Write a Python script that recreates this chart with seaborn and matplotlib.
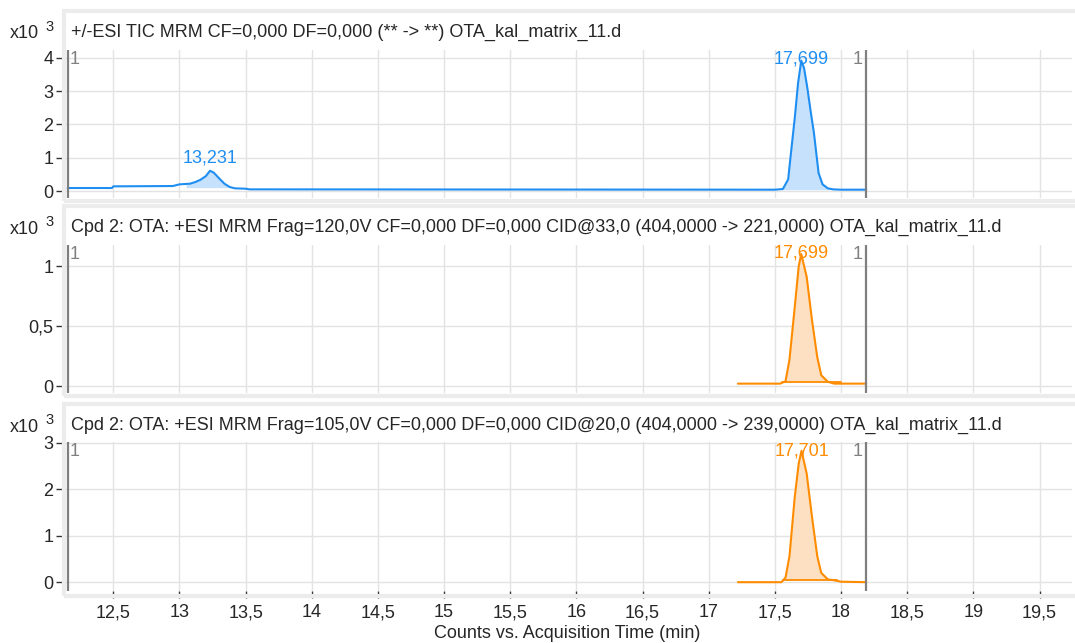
import numpy as np
import pandas as pd
import matplotlib
import matplotlib.pyplot as plt
import seaborn as sns
from matplotlib.patches import Rectangle
from matplotlib.ticker import FuncFormatter

matplotlib.use('Agg')

# --- chromatogram data (x10^3 counts vs. acquisition time in min) ---
tic_time = [12.155, 12.49, 12.5, 12.95, 13.0, 13.08, 13.12, 13.16, 13.2, 13.231,
            13.26, 13.3, 13.34, 13.38, 13.42, 13.5, 13.53, 17.5, 17.56, 17.6,
            17.62, 17.65, 17.675, 17.699, 17.72, 17.745, 17.77, 17.795, 17.83,
            17.86, 17.9, 17.94, 18.0, 18.19]
tic_counts = [0.09, 0.09, 0.14, 0.15, 0.2, 0.22, 0.27, 0.34, 0.45, 0.61,
              0.55, 0.38, 0.22, 0.12, 0.08, 0.07, 0.05, 0.04, 0.06, 0.35,
              1.1, 2.2, 3.25, 3.92, 3.7, 3.1, 2.4, 1.74, 0.54,
              0.2, 0.08, 0.05, 0.04, 0.04]

mrm221_time = [17.22, 17.54, 17.58, 17.61, 17.65, 17.68, 17.699, 17.74, 17.78,
               17.82, 17.85, 17.9, 17.95, 18.19]
mrm221_counts = [0.02, 0.02, 0.04, 0.22, 0.66, 1.0, 1.1, 0.91, 0.55,
                 0.24, 0.09, 0.035, 0.02, 0.02]

mrm239_time = [17.22, 17.55, 17.58, 17.61, 17.65, 17.68, 17.701, 17.74, 17.78,
               17.82, 17.85, 17.9, 17.95, 18.0, 18.19]
mrm239_counts = [0.0, 0.0, 0.1, 0.56, 1.84, 2.56, 2.83, 2.34, 1.41,
                 0.56, 0.2, 0.06, 0.04, 0.01, 0.0]

# integrated peaks: (start, end, baseline level, apex time, apex label)
tic_peaks = [(13.05, 13.42, 0.1, 13.231, '13,231'), (17.55, 17.95, 0.04, 17.699, '17,699')]
mrm221_peaks = [(17.55, 18.0, 0.035, 17.699, '17,699')]
mrm239_peaks = [(17.56, 17.97, 0.04, 17.701, '17,701')]

titles = [
    '+/-ESI TIC MRM CF=0,000 DF=0,000 (** -> **) OTA_kal_matrix_11.d',
    'Cpd 2: OTA: +ESI MRM Frag=120,0V CF=0,000 DF=0,000 CID@33,0 (404,0000 -> 221,0000) OTA_kal_matrix_11.d',
    'Cpd 2: OTA: +ESI MRM Frag=105,0V CF=0,000 DF=0,000 CID@20,0 (404,0000 -> 239,0000) OTA_kal_matrix_11.d',
]
y_ticks = [[0, 1, 2, 3, 4], [0, 0.5, 1], [0, 1, 2, 3]]
y_lims = [(-0.21, 4.24), (-0.058, 1.175), (-0.19, 3.02)]
x_ticks = [12.5, 13, 13.5, 14, 14.5, 15, 15.5, 16, 16.5, 17, 17.5, 18, 18.5, 19, 19.5]

BLUE = '#1f8ef1'
ORANGE = '#ff8c00'
FS = 13

sns.set_style('white')
plt.rcParams['font.family'] = ['Liberation Sans', 'DejaVu Sans']

W, H = 1075, 643
fig = plt.figure(figsize=(W / 100, H / 100), dpi=100)

# panel geometry in pixels: (box top, box bottom, plot top, plot bottom)
panels = [(11, 201, 50, 198), (206, 396, 245, 393), (404, 596, 442, 591)]

series = [
    (tic_time, tic_counts, tic_peaks, BLUE, '#c6e1fb'),
    (mrm221_time, mrm221_counts, mrm221_peaks, ORANGE, '#fde0c2'),
    (mrm239_time, mrm239_counts, mrm239_peaks, ORANGE, '#fde0c2'),
]

comma = FuncFormatter(lambda v, p: ('%g' % v).replace('.', ','))

for i, ((btop, bbot, ptop, pbot), (t, c, peaks, col, fcol)) in enumerate(zip(panels, series)):
    # light grey frame around the whole panel
    fig.patches.append(Rectangle((64 / W, 1 - bbot / H), (W - 62) / W, (bbot - btop) / H,
                                 transform=fig.transFigure, fill=False,
                                 edgecolor='#ececec', lw=3, zorder=0))
    fig.text(71 / W, 1 - (btop + 21) / H, titles[i], fontsize=FS, va='center', ha='left')
    fig.text(10 / W, 1 - (btop + 23) / H, 'x10', fontsize=FS, va='center', ha='left')
    fig.text(45 / W, 1 - (btop + 16) / H, '3', fontsize=10.5, va='center', ha='left')

    ax = fig.add_axes([63 / W, 1 - pbot / H, 1009 / W, (pbot - ptop) / H])
    df = pd.DataFrame({'time': t, 'counts': c})
    sns.lineplot(data=df, x='time', y='counts', color=col, lw=1.5, ax=ax, zorder=3)

    tt = np.array(t)
    cc = np.array(c)
    lo, hi = y_lims[i]
    for start, end, base, apex, lab in peaks:
        m = (tt >= start) & (tt <= end)
        xs = np.concatenate([[start], tt[m], [end]])
        ys = np.interp(xs, tt, cc)
        ax.fill_between(xs, base, np.maximum(ys, base), color=fcol, lw=0, zorder=2)
        if i > 0:
            ax.plot([start, end], [base, base], color=col, lw=1.3, zorder=3)
        top = np.interp(apex, tt, cc)
        if (top - lo) / (hi - lo) > 0.8:
            # label pinned to the top of the plot, over the apex
            ax.text(apex, 1.0, lab, transform=ax.get_xaxis_transform(), ha='center',
                    va='top', fontsize=FS, color=col, zorder=4)
        else:
            ax.annotate(lab, (apex, top), xytext=(0, 3), textcoords='offset points',
                        ha='center', va='bottom', fontsize=FS, color=col, zorder=4)

    # run markers
    for xm in (12.155, 18.19):
        ax.axvline(xm, color='#7f7f7f', lw=1.6, zorder=4)
    ax.text(12.17, 0.99, '1', transform=ax.get_xaxis_transform(), ha='left', va='top',
            fontsize=FS, color='#808080')
    ax.text(18.165, 0.99, '1', transform=ax.get_xaxis_transform(), ha='right', va='top',
            fontsize=FS, color='#808080')

    ax.set_xlim(12.12, 19.745)
    ax.set_ylim(lo, hi)
    ax.set_xticks(x_ticks)
    ax.set_yticks(y_ticks[i])
    ax.xaxis.set_major_formatter(comma)
    ax.yaxis.set_major_formatter(comma)
    ax.grid(True, color='#e3e3e3', lw=1)
    ax.set_axisbelow(True)
    for s in ('top', 'right', 'bottom'):
        ax.spines[s].set_visible(False)
    ax.spines['left'].set_color('#9a9a9a')
    ax.spines['left'].set_linewidth(1.2)
    ax.tick_params(axis='y', left=True, length=5, width=1, color='#333333',
                   labelsize=FS, pad=2)
    ax.set_ylabel('')
    if i < 2:
        ax.tick_params(axis='x', bottom=False, labelbottom=False)
        ax.set_xlabel('')
    else:
        ax.tick_params(axis='x', bottom=True, length=5, width=1, color='#333333',
                       labelsize=FS, pad=4.5)
        ax.set_xlabel('Counts vs. Acquisition Time (min)', fontsize=FS)
        ax.xaxis.set_label_coords(0.5, (pbot - 625) / (pbot - ptop))

fig.savefig('out.png', dpi=100)
